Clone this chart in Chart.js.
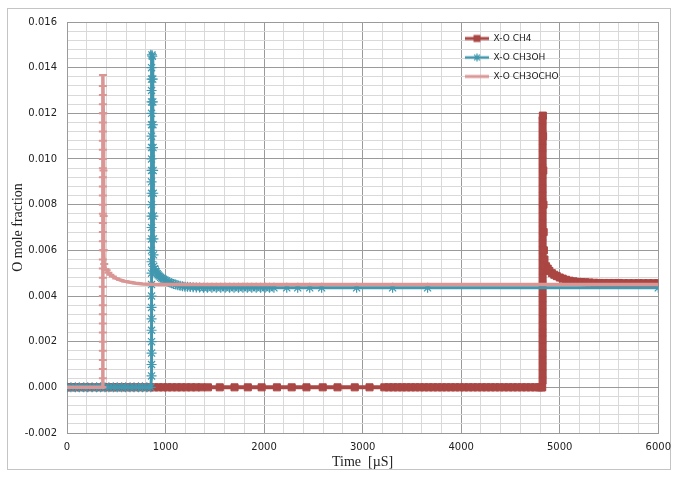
<!DOCTYPE html>
<html>
<head>
<meta charset="utf-8">
<title>O mole fraction</title>
<script src="https://cdn.jsdelivr.net/npm/chart.js@4.4.1/dist/chart.umd.min.js"></script>
<style>
  html, body { margin: 0; padding: 0; background: #fff; }
  canvas { display: block; }
</style>
</head>
<body>
<canvas id="chart" width="679" height="481"></canvas>
<script>
// Veriler: [zaman (µs), O mol kesri]
const ch4Points = [
    [0, 0], [45, 0], [90, 0], [140, 0], [185, 0], [230, 0], [280, 0], [325, 0], [370, 0], [420, 0],
    [465, 0], [510, 0], [560, 0], [605, 0], [650, 0], [700, 0], [745, 0], [790, 0], [840, 0], [885, 0],
    [930, 0], [975, 0], [1020, 0], [1065, 0], [1115, 0], [1160, 0], [1210, 0], [1260, 0], [1310, 0], [1365, 0],
    [1430, 0], [1550, 0], [1700, 0], [1835, 0], [1975, 0], [2130, 0], [2280, 0], [2430, 0], [2595, 0], [2745, 0],
    [2920, 0], [3070, 0],
    [3220, 0], [3265, 0], [3310, 0], [3355, 0], [3400, 0], [3445, 0], [3490, 0], [3535, 0], [3580, 0], [3625, 0],
    [3670, 0], [3715, 0], [3760, 0], [3805, 0], [3850, 0], [3895, 0], [3940, 0], [3985, 0], [4030, 0], [4075, 0],
    [4120, 0], [4165, 0], [4210, 0], [4255, 0], [4300, 0], [4345, 0], [4390, 0], [4435, 0], [4480, 0], [4525, 0],
    [4570, 0], [4615, 0], [4660, 0], [4705, 0], [4750, 0], [4790, 0], [4815, 0], [4822, 0],
    [4826, 0.0003], [4826, 0.0006], [4826, 0.0009], [4826, 0.0012], [4826, 0.0015], [4826, 0.0018], [4826, 0.0021],
    [4826, 0.0024], [4826, 0.0027], [4826, 0.0030], [4826, 0.0033], [4826, 0.0036], [4826, 0.0039], [4826, 0.0042],
    [4826, 0.0045], [4826, 0.0048], [4826, 0.0051], [4826, 0.0054], [4826, 0.0057], [4826, 0.0060], [4826, 0.0063],
    [4826, 0.0066], [4826, 0.0069], [4826, 0.0072], [4826, 0.0075], [4826, 0.0078], [4826, 0.0081], [4826, 0.0084],
    [4826, 0.0087], [4826, 0.0090], [4826, 0.0093], [4826, 0.0096], [4826, 0.0099], [4826, 0.0102], [4826, 0.0105],
    [4826, 0.0108], [4826, 0.0111], [4826, 0.0114], [4826, 0.0117], [4829, 0.0119],
    [4831, 0.0110], [4833, 0.0095], [4835, 0.0080], [4837, 0.0068], [4839, 0.0060],
    [4845, 0.0056], [4861, 0.0053], [4878, 0.0052], [4895, 0.0051], [4920, 0.0050], [4945, 0.00493],
    [4970, 0.00487], [5000, 0.00481], [5030, 0.00476], [5064, 0.00471], [5100, 0.00467], [5140, 0.00464],
    [5180, 0.00462], [5220, 0.00461], [5260, 0.0046], [5300, 0.00459], [5350, 0.00458], [5400, 0.00457],
    [5450, 0.00457], [5500, 0.00457], [5550, 0.00457], [5600, 0.00457], [5650, 0.00456], [5700, 0.00456],
    [5750, 0.00456], [5800, 0.00456], [5850, 0.00456], [5900, 0.00456], [5950, 0.00456], [6000, 0.00456]
];

const ch3ohPoints = [
    [0, 0], [40, 0], [85, 0], [125, 0], [170, 0], [210, 0], [255, 0], [300, 0], [340, 0], [385, 0],
    [425, 0], [470, 0], [510, 0], [555, 0], [595, 0], [640, 0], [680, 0], [725, 0], [765, 0], [810, 0], [850, 0],
    [858, 0.0005], [858, 0.0010], [858, 0.0015], [858, 0.0020], [858, 0.0025], [858, 0.0030], [858, 0.0035],
    [858, 0.0040], [858, 0.0045], [858, 0.0050], [858, 0.0055], [858, 0.0060], [858, 0.0065], [858, 0.0070],
    [858, 0.0075], [858, 0.0080], [858, 0.0085], [858, 0.0090], [858, 0.0095], [858, 0.0100], [858, 0.0105],
    [858, 0.0110], [858, 0.0115], [858, 0.0120], [858, 0.0125], [858, 0.0130], [858, 0.0135], [858, 0.0140],
    [862, 0.01456], [866, 0.0145],
    [870, 0.0135], [871, 0.0125], [872, 0.0115], [873, 0.0105], [874, 0.0095], [875, 0.0085], [876, 0.0075],
    [877, 0.0065], [878, 0.0058],
    [880, 0.0053], [888, 0.0052], [896, 0.0051], [905, 0.00505], [915, 0.00498], [925, 0.00492], [937, 0.00487],
    [950, 0.00482], [963, 0.00478], [977, 0.00474], [992, 0.0047], [1008, 0.00466], [1025, 0.00462],
    [1043, 0.00459], [1062, 0.00456], [1082, 0.00453], [1103, 0.0045], [1125, 0.00447], [1148, 0.00445],
    [1172, 0.00443], [1197, 0.00441], [1223, 0.0044], [1250, 0.00439], [1280, 0.00438], [1312, 0.00437],
    [1345, 0.00437], [1385, 0.00436], [1425, 0.00436], [1470, 0.00436], [1515, 0.00436], [1560, 0.00436],
    [1605, 0.00436], [1650, 0.00436], [1695, 0.00436], [1740, 0.00436], [1785, 0.00436], [1830, 0.00436],
    [1875, 0.00436], [1920, 0.00436], [1965, 0.00436], [2010, 0.00436], [2055, 0.00436], [2100, 0.00436],
    [2230, 0.00436], [2341, 0.00436], [2463, 0.00436], [2584, 0.00436], [2939, 0.00436], [3304, 0.00436],
    [3659, 0.00436], [6000, 0.00436]
];

const ch3ochoPoints = [
    [0, 0], [40, 0], [80, 0], [120, 0], [160, 0], [200, 0], [240, 0], [280, 0], [320, 0], [355, 0], [360, 0],
    [364, 0.0004], [364, 0.0008], [364, 0.0012], [364, 0.0016], [364, 0.0020], [364, 0.0024], [364, 0.0028],
    [364, 0.0032], [364, 0.0036], [364, 0.0040], [364, 0.0044], [364, 0.0048], [364, 0.0052], [364, 0.0056],
    [364, 0.0060], [364, 0.0064], [364, 0.0068], [364, 0.0072], [364, 0.0076], [364, 0.0080], [364, 0.0084],
    [364, 0.0088], [364, 0.0092], [364, 0.0096], [364, 0.0100], [364, 0.0104], [364, 0.0108], [364, 0.0112],
    [364, 0.0116], [364, 0.0120], [364, 0.0124], [364, 0.0128], [364, 0.0132], [365, 0.01368],
    [368, 0.0120], [370, 0.0095], [372, 0.0075], [375, 0.0060], [378, 0.0054],
    [390, 0.00518], [402, 0.00513], [420, 0.00502], [440, 0.00493], [465, 0.00485], [500, 0.00477],
    [540, 0.0047], [590, 0.00464], [640, 0.0046], [700, 0.00456], [770, 0.00453], [850, 0.00451],
    [950, 0.0045], [1100, 0.0045], [1500, 0.0045], [2000, 0.0045], [2500, 0.0045], [3000, 0.0045],
    [3500, 0.0045], [4000, 0.0045], [4500, 0.0045], [5000, 0.0045], [5500, 0.0045], [6000, 0.0045]
];

const seriesLabels = ['X-O CH4', 'X-O CH3OH', 'X-O CH3OCHO'];
const xMajorTicks = [0, 1000, 2000, 3000, 4000, 5000, 6000];
const yMajorTicks = [-0.002, 0, 0.002, 0.004, 0.006, 0.008, 0.010, 0.012, 0.014, 0.016];

const colors = {
    ch4: '#AA4643',
    ch3oh: '#4198AF',
    ch3ocho: '#D99694',
    gridMajor: '#9a9a9a',
    gridMinor: '#d9d9d9',
    text: '#222'
};

function isMajor(list, v) {
    return list.some(t => Math.abs(t - v) < 1e-9);
}

function toXY(points) {
    return points.map(p => ({ x: p[0], y: p[1] }));
}

// Lejant simgeleri: çizgi + işaret
function makeIcon(color, lineWidth, marker) {
    const c = document.createElement('canvas');
    c.width = 24;
    c.height = 10;
    const g = c.getContext('2d');
    g.strokeStyle = color;
    g.fillStyle = color;
    g.lineWidth = lineWidth;
    g.beginPath();
    g.moveTo(0, 5);
    g.lineTo(24, 5);
    g.stroke();
    if (marker === 'rect') {
        g.fillRect(8.5, 1.5, 7, 7);
    } else if (marker === 'star') {
        g.lineWidth = 1.2;
        g.beginPath();
        [0, 45, 90, 135].forEach(a => {
            const r = a * Math.PI / 180;
            g.moveTo(12 - 4 * Math.cos(r), 5 - 4 * Math.sin(r));
            g.lineTo(12 + 4 * Math.cos(r), 5 + 4 * Math.sin(r));
        });
        g.stroke();
    }
    return c;
}

const legendIcons = [
    makeIcon(colors.ch4, 3, 'rect'),
    makeIcon(colors.ch3oh, 2.5, 'star'),
    makeIcon(colors.ch3ocho, 3, null)
];

// Beyaz zemin ve dış çerçeve
const framePlugin = {
    id: 'frame',
    beforeDraw(chart) {
        const ctx = chart.ctx;
        ctx.save();
        ctx.fillStyle = '#fff';
        ctx.fillRect(0, 0, chart.width, chart.height);
        ctx.strokeStyle = '#c4c4c4';
        ctx.lineWidth = 1;
        ctx.strokeRect(7.5, 8.5, 663, 461);
        ctx.restore();
    }
};

// Lejantı çizim alanının sağ üstüne taşı
const legendPlace = {
    id: 'legendPlace',
    afterLayout(chart) {
        const lg = chart.legend;
        if (!lg) return;
        lg.left = 455;
        lg.top = 24;
        lg.right = lg.left + lg.width;
        lg.bottom = lg.top + lg.height;
    }
};

const tickFont = { family: 'DejaVu Sans', size: 10 };
const titleFont = { family: 'Liberation Serif', size: 14 };

new Chart(document.getElementById('chart'), {
    type: 'line',
    data: {
        datasets: [
            {
                label: seriesLabels[0],
                data: toXY(ch4Points),
                borderColor: colors.ch4,
                backgroundColor: colors.ch4,
                borderWidth: 4,
                pointStyle: 'rect',
                pointRadius: 5,
                pointBorderWidth: 1,
                pointBackgroundColor: colors.ch4,
                pointBorderColor: colors.ch4,
                order: 3
            },
            {
                label: seriesLabels[1],
                data: toXY(ch3ohPoints),
                borderColor: colors.ch3oh,
                backgroundColor: colors.ch3oh,
                borderWidth: 3,
                pointStyle: 'star',
                pointRadius: 5,
                pointBorderWidth: 1.2,
                pointBorderColor: colors.ch3oh,
                order: 2
            },
            {
                label: seriesLabels[2],
                data: toXY(ch3ochoPoints),
                borderColor: colors.ch3ocho,
                backgroundColor: colors.ch3ocho,
                borderWidth: 3.5,
                pointStyle: 'line',
                pointRadius: 4,
                pointBorderWidth: 2,
                pointBorderColor: colors.ch3ocho,
                order: 1
            }
        ]
    },
    options: {
        responsive: false,
        animation: false,
        devicePixelRatio: 1,
        layout: { padding: { left: 0, right: 20, top: 22, bottom: 0 } },
        elements: { line: { tension: 0, fill: false } },
        plugins: {
            tooltip: { enabled: false },
            legend: {
                position: 'chartArea',
                align: 'start',
                labels: {
                    font: { family: 'DejaVu Sans', size: 9 },
                    color: colors.text,
                    usePointStyle: true,
                    pointStyleWidth: 24,
                    padding: 10,
                    sort: (a, b) => a.datasetIndex - b.datasetIndex,
                    generateLabels: (chart) => {
                        const items = Chart.defaults.plugins.legend.labels.generateLabels(chart);
                        items.forEach(it => { it.pointStyle = legendIcons[it.datasetIndex]; });
                        return items;
                    }
                }
            }
        },
        scales: {
            x: {
                type: 'linear',
                min: 0,
                max: 6000,
                ticks: {
                    stepSize: 200,
                    autoSkip: false,
                    maxRotation: 0,
                    minRotation: 0,
                    padding: 8,
                    font: tickFont,
                    color: colors.text,
                    callback: v => isMajor(xMajorTicks, v) ? String(v) : ''
                },
                grid: {
                    drawTicks: false,
                    color: ctx => isMajor(xMajorTicks, ctx.tick.value) ? colors.gridMajor : colors.gridMinor
                },
                border: { color: colors.gridMajor },
                title: {
                    display: true,
                    text: 'Time  [µS]',
                    font: titleFont,
                    color: colors.text,
                    padding: { top: 0, bottom: 10 }
                },
                afterFit: s => { s.height = 48; }
            },
            y: {
                type: 'linear',
                min: -0.002,
                max: 0.016,
                ticks: {
                    stepSize: 0.0004,
                    autoSkip: false,
                    padding: 10,
                    font: tickFont,
                    color: colors.text,
                    callback: v => isMajor(yMajorTicks, v) ? v.toFixed(3) : ''
                },
                grid: {
                    drawTicks: false,
                    color: ctx => isMajor(yMajorTicks, ctx.tick.value) ? colors.gridMajor : colors.gridMinor
                },
                border: { color: colors.gridMajor },
                title: {
                    display: true,
                    text: 'O mole fraction',
                    font: titleFont,
                    color: colors.text,
                    padding: { top: 10, bottom: 0 }
                },
                afterFit: s => { s.width = 67; }
            }
        }
    },
    plugins: [framePlugin, legendPlace]
});
</script>
</body>
</html>
